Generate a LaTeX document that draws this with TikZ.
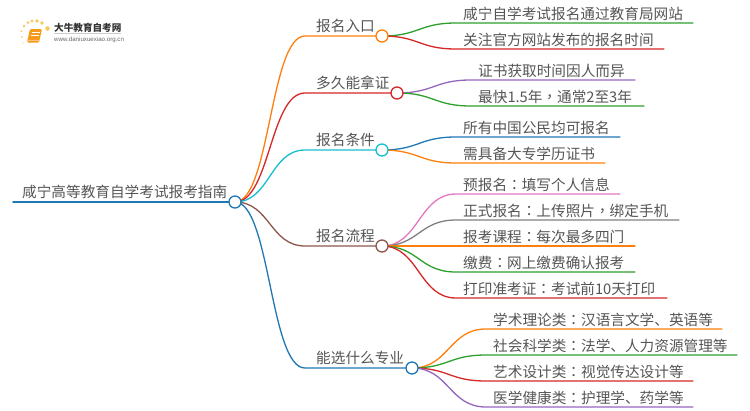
\documentclass[tikz,border=0pt]{standalone}
\usepackage{fontspec}
\setmainfont{Noto Sans CJK SC}[Scale=1]
\newfontfamily\tcfont{Noto Sans CJK TC}
\newfontfamily\latinfont{Liberation Sans}
\newcommand{\cn}{{\tcfont ：}}
\newcommand{\cm}{{\tcfont ，}}
\definecolor{cOrange}{HTML}{FF7F0E}
\definecolor{cGreen}{HTML}{2CA02C}
\definecolor{cRed}{HTML}{D62728}
\definecolor{cCyan}{HTML}{17BECF}
\definecolor{cPurple}{HTML}{9467BD}
\definecolor{cBlue}{HTML}{1F77B4}
\definecolor{cBrown}{HTML}{8C564B}
\definecolor{cPink}{HTML}{E377C2}
\definecolor{cGray}{HTML}{7F7F7F}
\definecolor{cText}{HTML}{555555}
\definecolor{cBook}{HTML}{F59A1B}
\definecolor{cDot}{HTML}{F9C85A}
\tikzset{
  x=1pt,y=-1pt,
  label text/.style={anchor=base west,inner sep=0pt,text=cText,font=\fontsize{14.65}{15}\selectfont},
  joint/.style={circle,draw,fill=white,line width=1.3pt,minimum size=12pt,inner sep=0pt},
  link/.style={line width=1.3pt,line cap=round}
}
\begin{document}
\begin{tikzpicture}
\useasboundingbox (0,0) rectangle (750,410);
% joints
\coordinate (rootC) at (235,202);
\coordinate (aC) at (382,36);
\coordinate (bC) at (397,93);
\coordinate (cC) at (382,150);
\coordinate (dC) at (382,246);
\coordinate (eC) at (412,368);
\coordinate (rootL) at (13,202);
% texts
\node[label text] (root) at (22,197) {咸宁高等教育自学考试报考指南};
\node[label text] (a) at (316,31) {报名入口};
\node[label text] (b) at (316,88) {多久能拿证};
\node[label text] (c) at (316,145) {报名条件};
\node[label text] (d) at (316,241) {报名流程};
\node[label text] (e) at (316,363) {能选什么专业};
\node[label text] (a1) at (463,19) {咸宁自学考试报名通过教育局网站};
\node[label text] (a2) at (463,45) {关注官方网站发布的报名时间};
\node[label text] (b1) at (478,76) {证书获取时间因人而异};
\node[label text] (b2) at (478,102) {最快1.5年\cm 通常2至3年};
\node[label text] (c1) at (463,133) {所有中国公民均可报名};
\node[label text] (c2) at (463,159) {需具备大专学历证书};
\node[label text] (d1) at (463,190) {预报名\cn 填写个人信息};
\node[label text] (d2) at (463,216) {正式报名\cn 上传照片\cm 绑定手机};
\node[label text] (d3) at (463,242) {报考课程\cn 每次最多四门};
\node[label text] (d4) at (463,268) {缴费\cn 网上缴费确认报考};
\node[label text] (d5) at (463,294) {打印准考证\cn 考试前10天打印};
\node[label text] (e1) at (493,325) {学术理论类\cn 汉语言文学、英语等};
\node[label text] (e2) at (493,351) {社会科学类\cn 法学、人力资源管理等};
\node[label text] (e3) at (493,377) {艺术设计类\cn 视觉传达设计等};
\node[label text] (e4) at (493,403) {医学健康类\cn 护理学、药学等};
% connectors
\draw[link,cBlue,line width=1.6pt] (rootL) -- (rootC);
\draw[link,cOrange] (rootC) .. controls +(35,0) and +(-35,0) .. (305,36) -- (aC);
\draw[link,cRed] (rootC) .. controls +(35,0) and +(-35,0) .. (305,93) -- (bC);
\draw[link,cCyan] (rootC) .. controls +(35,0) and +(-35,0) .. (305,150) -- (cC);
\draw[link,cBrown] (rootC) .. controls +(35,0) and +(-35,0) .. (305,246) -- (dC);
\draw[link,cBlue] (rootC) .. controls +(35,0) and +(-35,0) .. (305,368) -- (eC);
\draw[link,cGreen] (aC) .. controls +(37,0) and +(-37,0) .. (456,23) -- (693,23);
\draw[link,cRed] (aC) .. controls +(37,0) and +(-37,0) .. (456,49) -- (664,49);
\draw[link,cPurple] (bC) .. controls +(37,0) and +(-37,0) .. (471,80) -- (635,80);
\draw[link,cGreen] (bC) .. controls +(37,0) and +(-37,0) .. (471,106) -- (644,106);
\draw[link,cBlue] (cC) .. controls +(37,0) and +(-37,0) .. (456,137) -- (620,137);
\draw[link,cOrange] (cC) .. controls +(37,0) and +(-37,0) .. (456,163) -- (605,163);
\draw[link,cPink] (dC) .. controls +(37,0) and +(-37,0) .. (456,194) -- (620,194);
\draw[link,cGray] (dC) .. controls +(37,0) and +(-37,0) .. (456,220) -- (679,220);
\draw[link,cOrange] (dC) -- (635,246);
\draw[link,cGreen] (dC) .. controls +(37,0) and +(-37,0) .. (456,272) -- (635,272);
\draw[link,cRed] (dC) .. controls +(37,0) and +(-37,0) .. (456,298) -- (667,298);
\draw[link,cOrange] (eC) .. controls +(37,0) and +(-37,0) .. (486,329) -- (722,329);
\draw[link,cGreen] (eC) .. controls +(37,0) and +(-37,0) .. (486,355) -- (737,355);
\draw[link,cRed] (eC) .. controls +(37,0) and +(-37,0) .. (486,381) -- (693,381);
\draw[link,cPurple] (eC) .. controls +(37,0) and +(-37,0) .. (486,407) -- (693,407);
% circles
\node[joint,draw=cBlue] (rootJ) at (rootC) {};
\node[joint,draw=cOrange] (aJ) at (aC) {};
\node[joint,draw=cRed] (bJ) at (bC) {};
\node[joint,draw=cCyan] (cJ) at (cC) {};
\node[joint,draw=cBrown] (dJ) at (dC) {};
\node[joint,draw=cBlue] (eJ) at (eC) {};
% logo
\foreach \px/\py/\r in {21.5/31/1,24/26/1.3,28/22.5/1.5,32/21/1.6,37/21/1.8,42/23/1.9,47.5/28.5/2.3,22/37/.8,23/43/.7}
  \fill[cDot] (\px,\py) circle[radius=\r];
\fill[cBook,rounded corners=1.2pt] (30,29) -- (42,29) -- (39,42.5) -- (27,42.5) -- cycle;
\draw[white,line width=.8pt] (32,32.5) -- (39.5,32.5) (31.3,35.5) -- (38.8,35.5);
\draw[cBook!55!white,line width=.7pt] (28,40.6) -- (38.6,40.6);
\node[anchor=base west,inner sep=0pt,text=black!80,font=\bfseries\fontsize{9.6}{10}\selectfont] (logoA) at (54,31) {大牛教育自考网};
\draw[black!20,line width=.4pt] (54,33.5) -- (121,33.5);
\node[anchor=base west,inner sep=0pt,text=black!60,font=\latinfont\fontsize{6.15}{6}\selectfont] (logoB) at (54,41) {www.daniuxuexiao.org.cn};
\end{tikzpicture}
\end{document}
